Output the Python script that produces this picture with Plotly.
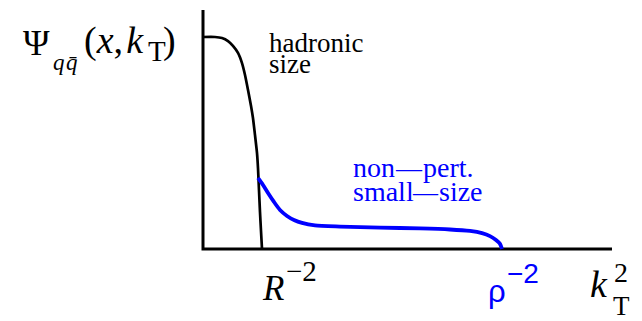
import plotly.graph_objects as go

# Hadronic-size wave function (black) vs k_T^2, in units of R^-2
kt2_hadronic = [0.0, 0.203, 0.322, 0.424, 0.508, 0.593, 0.661, 0.712, 0.763,
                0.814, 0.847, 0.881, 0.915, 0.932, 0.949, 0.966, 0.983, 1.0]
psi_hadronic = [1.0, 1.0, 0.995, 0.981, 0.958, 0.925, 0.877, 0.821, 0.75,
                0.675, 0.618, 0.538, 0.453, 0.382, 0.278, 0.175, 0.085, 0.0]

# Non-perturbative small-size component (blue)
kt2_small = [0.932, 1.017, 1.102, 1.203, 1.305, 1.424, 1.542, 1.678, 1.898,
             2.322, 3.0, 3.678, 4.186, 4.525, 4.729, 4.864, 4.966, 5.034, 5.068]
psi_small = [0.335, 0.302, 0.264, 0.222, 0.184, 0.156, 0.137, 0.123, 0.111,
             0.106, 0.101, 0.097, 0.092, 0.085, 0.075, 0.061, 0.042, 0.024, 0.0]

# Axis extents
x_axis_end = 6.932
y_axis_end = 1.127

W, H = 642, 321
SERIF = "Liberation Serif"
SANS = "Liberation Sans"
BLUE = "#0000ff"
MINUS = "\u2212"
DASH = "\u2014"

fig = go.Figure()

# axes drawn as thick lines
fig.add_trace(go.Scatter(x=[0, 0, x_axis_end], y=[y_axis_end, 0, 0], mode="lines",
                         line=dict(color="black", width=3), hoverinfo="skip",
                         cliponaxis=False))
fig.add_trace(go.Scatter(x=kt2_hadronic, y=psi_hadronic, mode="lines",
                         line=dict(color="black", width=2.7, shape="spline", smoothing=0.6),
                         hoverinfo="skip"))
fig.add_trace(go.Scatter(x=kt2_small, y=psi_small, mode="lines",
                         line=dict(color=BLUE, width=3.8, shape="spline", smoothing=0.6),
                         hoverinfo="skip"))

ASC, DESC = 0.891, 0.216


def label(text, x_left, baseline, size, color="black", family=SERIF):
    """Place text with its left edge and baseline given in pixels."""
    center = baseline - (ASC - DESC) / 2 * size
    fig.add_annotation(text=text, xref="paper", yref="paper",
                       x=x_left / W, y=1 - center / H,
                       xanchor="left", yanchor="middle", showarrow=False,
                       borderpad=0,
                       font=dict(family=family, size=size, color=color))


# y-axis label  psi_{q qbar}(x, k_T)
label("\u03a8", 22, 55, 36)
label("<i>q</i>", 52, 70, 23)
label("<i>q\u0304</i>", 65, 70, 23)
label("(<i>x</i>,\u200a<i>k</i>", 83, 53, 38)
label("T", 147, 61, 29)
label(")", 162, 53, 38)

label("hadronic", 268, 52, 27)
label("size", 268, 73, 27)

# blue annotation with long dashes
label("non", 352, 177, 28, BLUE)
label(DASH, 394, 177, 26, BLUE)
label("pert.", 422, 177, 28, BLUE)
label("small", 352, 201, 28, BLUE)
label(DASH, 411, 201, 25, BLUE)
label("size", 438, 201, 28, BLUE)

# axis marks
label("<i>R</i>", 261, 300, 35)
label(MINUS + "2", 285, 281, 29)

label("\u03c1", 487, 302, 31, BLUE, SANS)
label(MINUS + "2", 506, 283, 28, BLUE, SANS)

label("<i>k</i>", 589, 297, 38)
label("2", 613, 282, 28)
label("T", 612, 315, 27)

fig.update_layout(
    width=W, height=H,
    margin=dict(l=0, r=0, t=0, b=0),
    paper_bgcolor="white", plot_bgcolor="white",
    showlegend=False,
    xaxis=dict(range=[-203 / 59, (W - 203) / 59], visible=False, fixedrange=True),
    yaxis=dict(range=[-72 / 212, 249 / 212], visible=False, fixedrange=True),
)

fig.write_html("out.html")
